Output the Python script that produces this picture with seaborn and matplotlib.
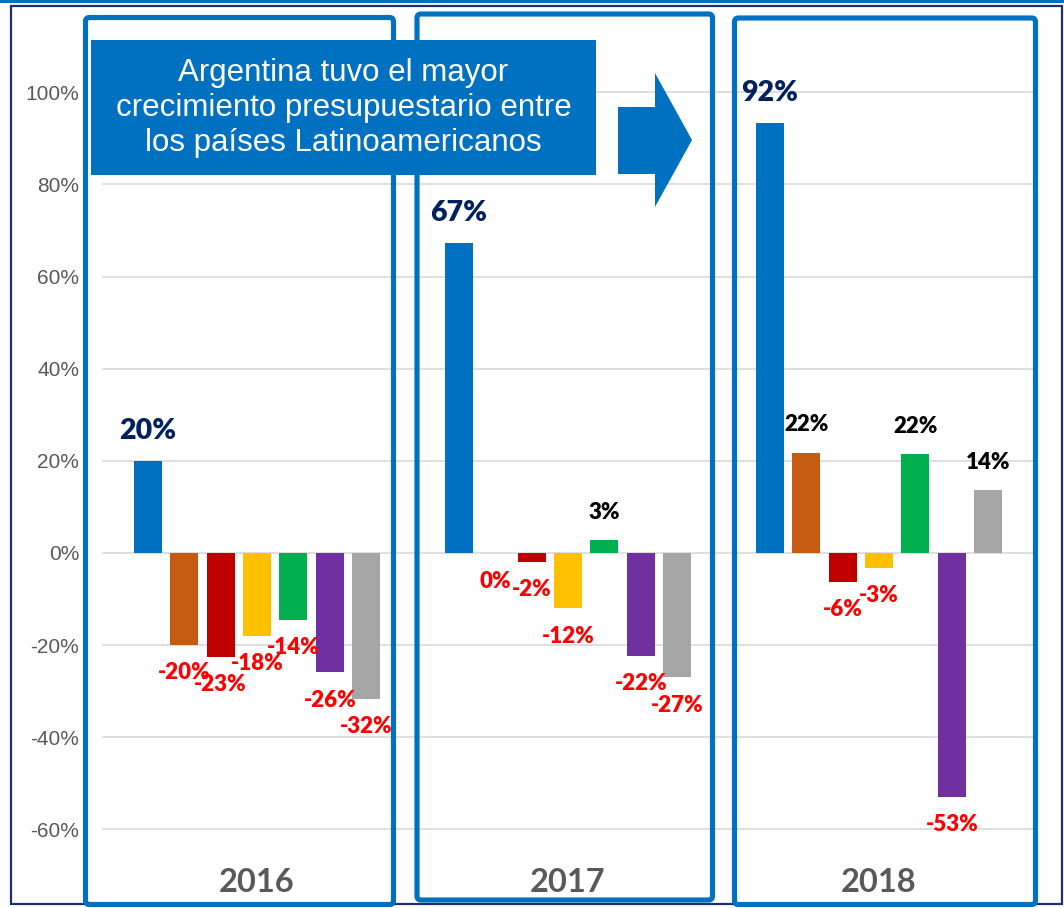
import numpy as np
import pandas as pd
import matplotlib.pyplot as plt
import matplotlib.patches as mpatches
import seaborn as sns

# =====================================
# DATA
# =====================================

years = ["2016", "2017", "2018"]

series = ["Argentina", "Serie 2", "Serie 3", "Serie 4", "Serie 5", "Serie 6", "Serie 7"]

colors = ["#0070C0", "#C55A11", "#C00000", "#FFC000", "#00B050", "#7030A0", "#A5A5A5"]

vals_2016 = [0.20, -0.20, -0.226, -0.18, -0.145, -0.259, -0.317]
vals_2017 = [0.673, -0.001, -0.02, -0.12, 0.028, -0.224, -0.27]
vals_2018 = [0.933, 0.218, -0.063, -0.032, 0.214, -0.53, 0.136]

labels_2016 = ["20%", "-20%", "-23%", "-18%", "-14%", "-26%", "-32%"]
labels_2017 = ["67%", "0%", "-2%", "-12%", "3%", "-22%", "-27%"]
labels_2018 = ["92%", "22%", "-6%", "-3%", "22%", "-53%", "14%"]

y_ticks = [-0.6, -0.4, -0.2, 0.0, 0.2, 0.4, 0.6, 0.8, 1.0]

title_text = "Argentina tuvo el mayor\ncrecimiento presupuestario entre\nlos países Latinoamericanos"

all_vals = [vals_2016, vals_2017, vals_2018]
all_labels = [labels_2016, labels_2017, labels_2018]

df = pd.DataFrame({
    "year": np.repeat(years, len(series)),
    "serie": series * len(years),
    "value": np.concatenate(all_vals),
})

# =====================================
# FIGURE
# =====================================

sns.set_style("white")
plt.rcParams["font.family"] = ["Liberation Sans", "DejaVu Sans"]

fig = plt.figure(figsize=(10.64, 9.08), dpi=100)
ax = fig.add_axes([101.5 / 1064, 51 / 908, 933 / 1064, 843 / 908])

sns.barplot(
    data=df,
    x="year",
    y="value",
    hue="serie",
    hue_order=series,
    order=years,
    palette=colors,
    width=0.82,
    gap=0.23,
    saturation=1,
    linewidth=0,
    legend=False,
    ax=ax,
)

ax.set_xlim(-0.5, 2.5)
ax.set_ylim(-0.66, 1.17)

ax.set_yticks(y_ticks)
ax.set_yticklabels([f"{round(t * 100)}%" for t in y_ticks])
ax.tick_params(axis="y", length=0, pad=16, labelsize=15, labelcolor="#595959")
ax.tick_params(axis="x", length=0, pad=8)
for lab in ax.get_xticklabels():
    lab.set_fontfamily("Lato")
    lab.set_fontweight("bold")
    lab.set_fontsize(23.5)
    lab.set_color("#595959")

ax.set_xlabel("")
ax.set_ylabel("")
ax.grid(axis="y", color="#D9D9D9", linewidth=1.2)
ax.set_axisbelow(True)
for s in ax.spines.values():
    s.set_visible(False)

# =====================================
# DATA LABELS
# =====================================

for i, container in enumerate(ax.containers):
    for j, bar in enumerate(container):
        v = all_vals[j][i]
        txt = all_labels[j][i]
        x = bar.get_x() + bar.get_width() / 2
        if i == 0:
            ax.annotate(txt, (x, v), xytext=(0, 21.5), textcoords="offset points",
                        ha="center", va="center", fontsize=20.5, fontweight="heavy",
                        color="#002060", family="Lato")
        elif v < 0:
            ax.annotate(txt, (x, v), xytext=(0, -20), textcoords="offset points",
                        ha="center", va="center", fontsize=16, fontweight="heavy",
                        color="#FF0000", family="Lato")
        else:
            ax.annotate(txt, (x, v), xytext=(0, 20), textcoords="offset points",
                        ha="center", va="center", fontsize=16, fontweight="heavy",
                        color="black", family="Lato")

# =====================================
# OVERLAY: FRAME, BOXES, TITLE, ARROW
# =====================================

ov = fig.add_axes([0, 0, 1, 1])
ov.set_xlim(0, 1064)
ov.set_ylim(908, 0)
ov.axis("off")
ov.patch.set_alpha(0)

ov.add_patch(mpatches.Rectangle((0, 0), 1064, 3, color="#0070C0", lw=0))
ov.add_patch(mpatches.Rectangle((10.5, 5.5), 1051.5, 898.5, fill=False,
                                edgecolor="#1F3068", lw=1.6))

boxes = [(85.5, 17.5, 393.5, 904.5), (417, 14, 712.5, 900), (734.5, 18, 1035.5, 904.5)]
for x0, y0, x1, y1 in boxes:
    ov.add_patch(mpatches.FancyBboxPatch(
        (x0, y0), x1 - x0, y1 - y0,
        boxstyle="round,pad=0,rounding_size=4",
        fill=False, edgecolor="#0070C0", lw=3.7, zorder=3))

ov.add_patch(mpatches.Rectangle((91, 40), 505, 135, color="#0070C0", lw=0, zorder=4))
ov.text(343.5, 108, title_text, ha="center", va="center", color="white",
        fontsize=22.5, linespacing=1.2, zorder=5)

arrow = [(618, 107), (655, 107), (655, 73), (692, 140), (655, 207), (655, 174), (618, 174)]
ov.add_patch(mpatches.Polygon(arrow, closed=True, color="#0070C0", lw=0, zorder=4))

plt.savefig("out.png", dpi=100)
